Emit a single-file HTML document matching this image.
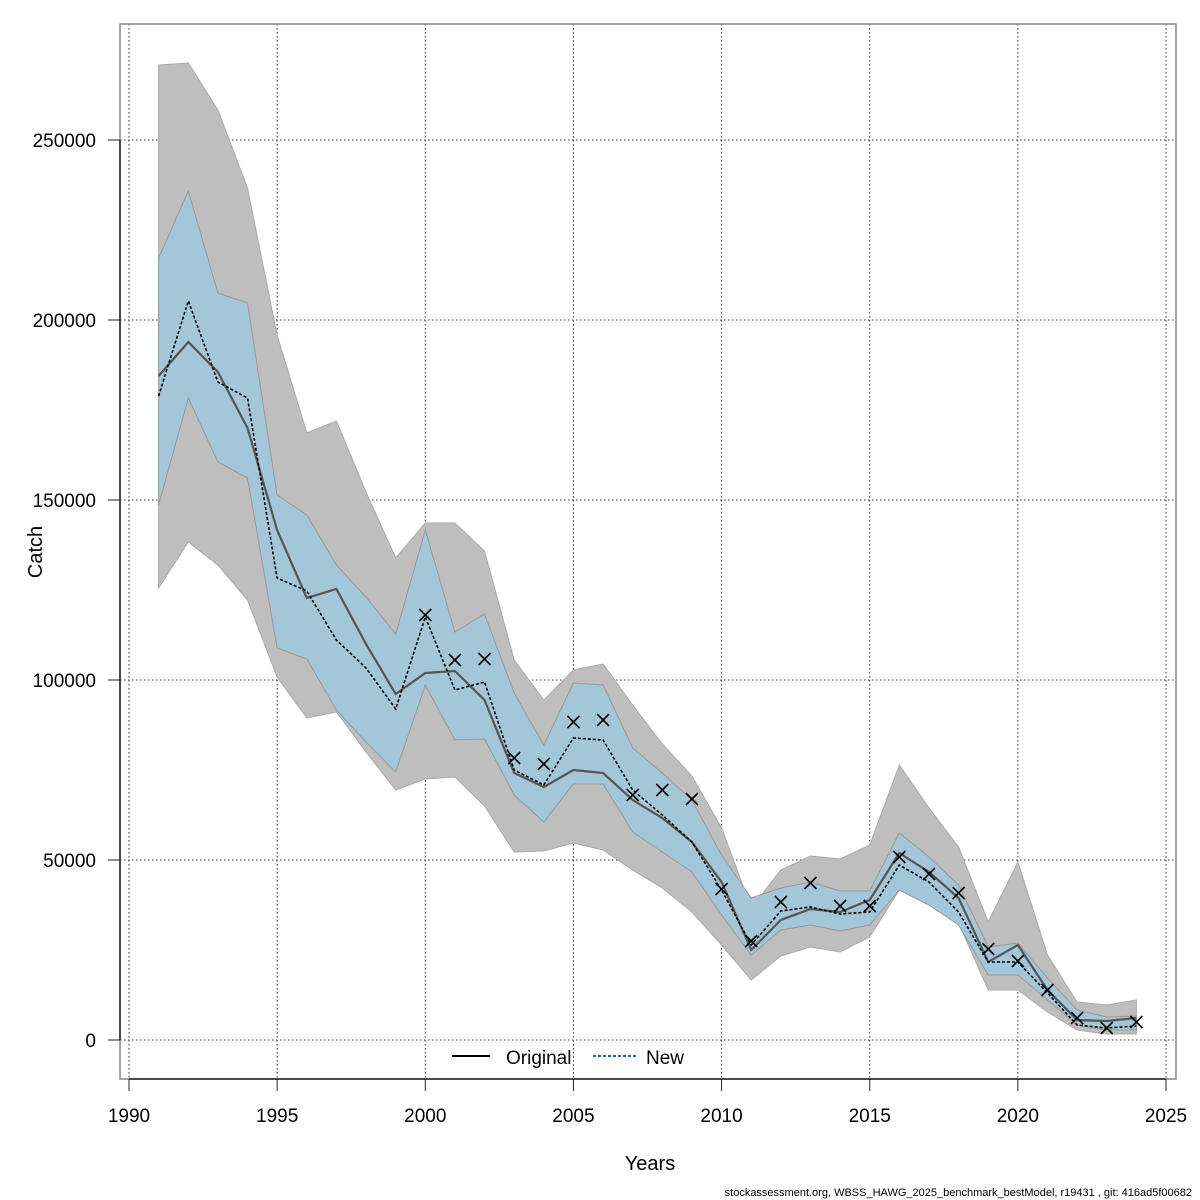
<!DOCTYPE html>
<html><head><meta charset="utf-8"><style>body{margin:0;background:#fff}svg{display:block}text{font-family:"Liberation Sans",Arial,sans-serif}</style></head>
<body>
<svg id="s" width="1200" height="1200" xmlns="http://www.w3.org/2000/svg">
<rect width="1200" height="1200" fill="#fff"/>
<g id="grid" stroke="#333" stroke-width="1" stroke-dasharray="1.5,2.5"></g>
<g id="data"></g>
<rect x="120" y="24" width="1056" height="1055" fill="none" stroke="#888" stroke-width="1.5"/>
<g id="axes" stroke="#222" stroke-width="1" font-size="19" fill="#000"></g>
<text x="650" y="1170" font-size="20" text-anchor="middle">Years</text>
<text x="42" y="552" font-size="20" text-anchor="middle" transform="rotate(-90 42 552)">Catch</text>
<text x="1192" y="1196" font-size="11" text-anchor="end">stockassessment.org, WBSS_HAWG_2025_benchmark_bestModel, r19431 , git: 416ad5f00682</text>
<line x1="452" y1="1056" x2="490" y2="1056" stroke="#000" stroke-width="2"/>
<text x="506" y="1064" font-size="19">Original</text>
<line x1="593" y1="1056" x2="636" y2="1056" stroke="#1a6a9a" stroke-width="2" stroke-dasharray="3,2"/>
<text x="646" y="1064" font-size="19">New</text>
</svg>
<script>
const X=y=>129+(y-1990)*1037/35;
const gu=[65,63,110,188,335,433,421,492,558,523,523,551,660,700,670,664,705,744,776,828,908,870,856,859,845,765,808,847,922,862,955,1002,1005,1000];
const gl=[588,542,565,600,677,718,712,752,790,779,777,806,852,851,843,850,870,888,912,945,980,956,947,952,937,890,905,923,990,990,1012,1030,1034,1034];
const bu=[258,191,293,303,495,515,565,597,634,530,632,614,693,745,683,685,748,773,800,855,898,888,882,891,891,833,857,885,947,943,978,1010,1017,1016];
const bl=[505,398,462,478,648,659,710,742,772,685,740,739,795,822,784,784,832,852,872,915,955,930,925,931,925,890,905,925,975,975,1000,1025,1030,1030];
const or=[376,342,372,428,530,598,589,644,694,673,671,700,773,787,770,773,800,818,842,882,950,920,909,912,900,853,872,898,962,945,990,1020,1021,1018];
const nw=[396,301,382,398,578,591,640,668,709,617,690,682,770,785,738,740,790,815,842,890,945,911,907,914,912,865,882,912,962,962,993,1025,1028,1026];
const mk=[615,660,659,758,764,722,720,795,790,799,889,941,902,883,906,906,857,874,893,949,961,990,1018,1028,1022];
const pts=a=>a.map((v,i)=>X(1991+i).toFixed(1)+','+v).join(' ');
const band=(u,l)=>pts(u)+' '+l.map((v,i)=>[X(1991+i).toFixed(1),v]).reverse().map(p=>p.join(',')).join(' ');
let d='';
d+=`<polygon points="${band(gu,gl)}" fill="#bebebe" stroke="#aaa" stroke-width="1"/>`;
d+=`<polygon points="${band(bu,bl)}" fill="#a3c6d8" stroke="#999" stroke-width="1"/>`;
d+=`<polyline points="${pts(or)}" fill="none" stroke="#555" stroke-width="2.2"/>`;
d+=`<polyline points="${pts(nw)}" fill="none" stroke="#000" stroke-width="1.6" stroke-dasharray="3,2"/>`;
mk.forEach((v,i)=>{const x=X(2000+i);d+=`<path d="M${x-6},${v-6}L${x+6},${v+6}M${x-6},${v+6}L${x+6},${v-6}" stroke="#000" stroke-width="1.6"/>`;});
document.getElementById('data').innerHTML=d;
let g='',a='';
for(let y=1990;y<=2025;y+=5){const x=X(y);g+=`<line x1="${x}" y1="24" x2="${x}" y2="1079"/>`;a+=`<line x1="${x}" y1="1079" x2="${x}" y2="1091"/><text x="${x}" y="1122" text-anchor="middle" stroke="none">${y}</text>`;}
for(let v=0;v<=250000;v+=50000){const y=1040-v*0.0036;g+=`<line x1="120" y1="${y}" x2="1176" y2="${y}"/>`;a+=`<line x1="108" y1="${y}" x2="120" y2="${y}"/><text x="96" y="${y+7}" text-anchor="end" stroke="none">${v}</text>`;}
a+=`<line x1="120" y1="140" x2="120" y2="1040" stroke-width="1.5"/><line x1="129" y1="1079" x2="1166" y2="1079" stroke-width="1.5"/>`;
document.getElementById('grid').innerHTML=g;
document.getElementById('axes').innerHTML=a;
</script>
</body></html>
